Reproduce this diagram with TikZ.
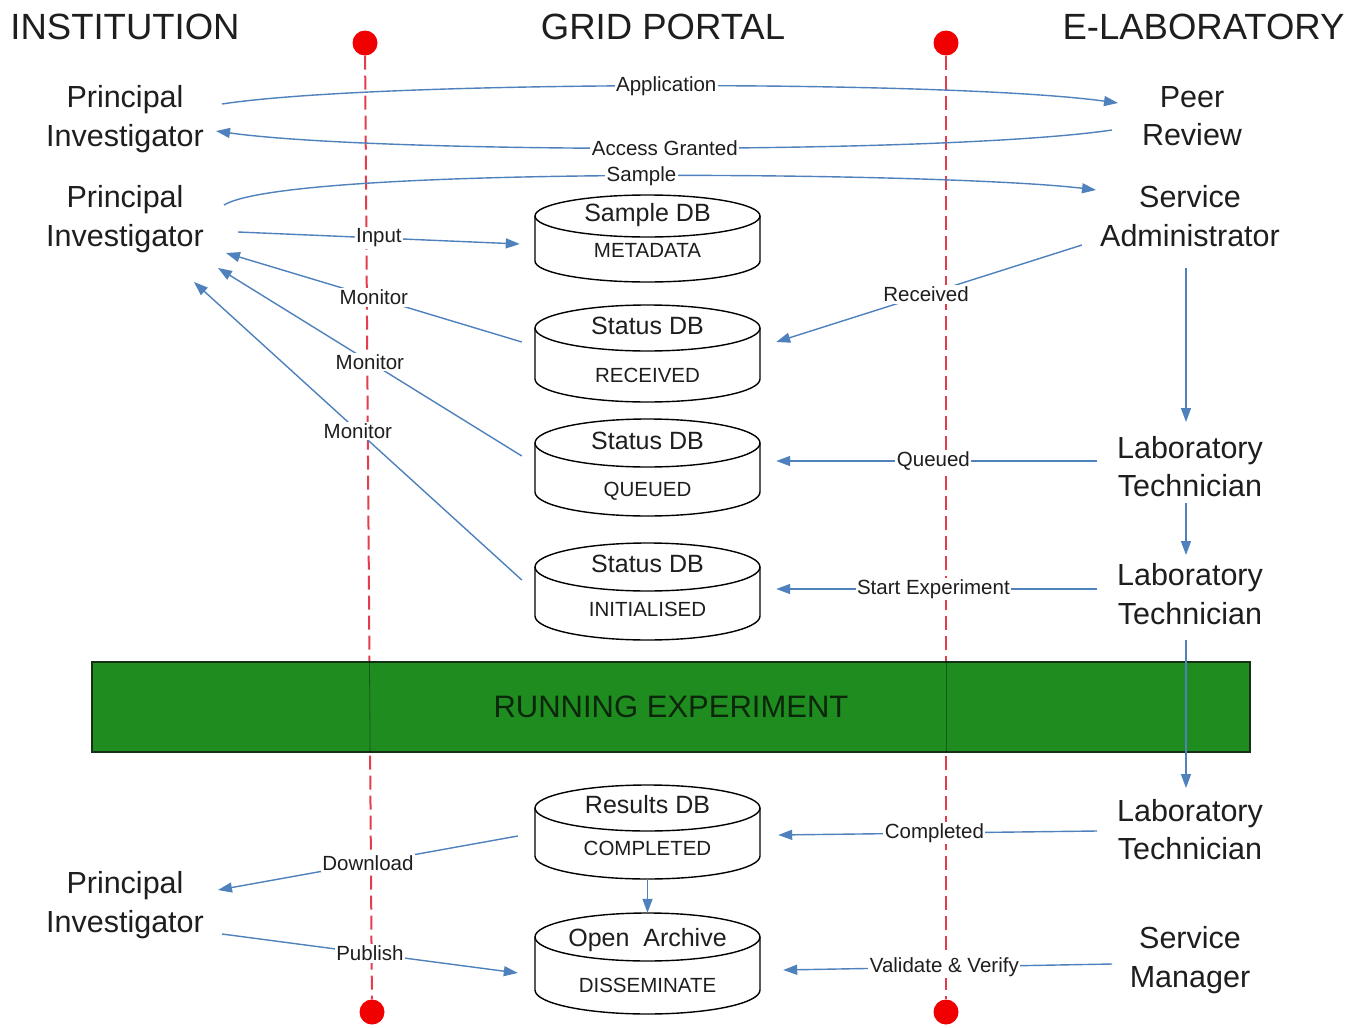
\documentclass[tikz,border=0pt]{standalone}
\usepackage{fontspec}
\setmainfont{Liberation Sans}
\usetikzlibrary{arrows.meta,calc}

\definecolor{flowblue}{RGB}{79,129,189}
\definecolor{lifered}{RGB}{228,62,78}
\definecolor{dotred}{RGB}{240,0,0}
\definecolor{rungreen}{RGB}{31,140,31}
\definecolor{runedge}{RGB}{22,48,22}
\definecolor{runtext}{RGB}{12,38,12}
\definecolor{ink}{RGB}{30,30,30}

\tikzset{
  head/.style={font=\fontsize{36.5}{40}\selectfont, text=ink, inner sep=0pt},
  actor/.style={font=\fontsize{30.5}{38.5}\selectfont, text=ink, align=center, inner sep=0pt},
  dbbox/.style={inner sep=0pt, minimum width=225pt},
  dbline/.style={draw=black, line width=1.4pt},
  dbtitle/.style={font=\fontsize{25}{28}\selectfont, text=ink, inner sep=0pt},
  dbsub/.style={font=\fontsize{20.5}{24}\selectfont, text=ink, inner sep=0pt},
  flow/.style={draw=flowblue, line width=1.4pt, -{Triangle[length=14pt, width=10pt]}},
  lbl/.style={fill=white, inner sep=1.5pt, text=ink, font=\fontsize{20.5}{24}\selectfont},
  lifedot/.style={circle, fill=dotred, inner sep=0pt, minimum size=25pt},
  lifeline/.style={draw=lifered, line width=2pt, dash pattern=on 14pt off 6pt},
  runbar/.style={fill=rungreen, draw=runedge, line width=1.6pt, minimum width=1158pt,
                 minimum height=90pt, inner sep=0pt, text=runtext,
                 font=\fontsize{31}{34}\selectfont},
}

% database cylinder: name, centre x, top y, bottom y, ellipse half-height,
% title, title y, status, status y
\newcommand\dbcyl[9]{%
  \pgfmathsetmacro\dbL{#2-112.5}%
  \pgfmathsetmacro\dbR{#2+112.5}%
  \pgfmathsetmacro\dbTc{#3+#5}%
  \pgfmathsetmacro\dbBc{#4-#5}%
  \pgfmathsetmacro\dbBk{#4-#5+0.5523*#5}%
  \pgfmathsetmacro\dbLk{#2-0.5523*112.5}%
  \pgfmathsetmacro\dbRk{#2+0.5523*112.5}%
  \node[dbbox, minimum height={#4-#3}] (#1) at (#2,{(#3+#4)/2}) {};
  \draw[dbline] (\dbL,\dbTc) -- (\dbL,\dbBc)
     .. controls (\dbL,\dbBk) and (\dbLk,#4) .. (#2,#4)
     .. controls (\dbRk,#4) and (\dbR,\dbBk) .. (\dbR,\dbBc) -- (\dbR,\dbTc);
  \draw[dbline] (#2,\dbTc) ellipse [x radius=112.5, y radius=#5];
  \node[dbtitle] (#1-title) at (#2,#7) {#6};
  \node[dbsub] (#1-sub) at (#2,#9) {#8};
}

\begin{document}
\begin{tikzpicture}[x=1pt, y=-1pt]
\useasboundingbox (0,0) rectangle (1366,1028);
\fill[white] (0,0) rectangle (1366,1028);

% column headings
\node[head] (inst) at (125,26.5) {INSTITUTION};
\node[head] (grid) at (663,26.5) {GRID PORTAL};
\node[head] (elab) at (1203.5,26.5) {E-LABORATORY};

% lifelines between the two domains
\node[lifedot] (ltop) at (365,43) {};
\node[lifedot] (lbot) at (372,1012) {};
\node[lifedot] (rtop) at (946,43) {};
\node[lifedot] (rbot) at (946,1012) {};
\draw[lifeline] (ltop) -- (lbot);
\draw[lifeline] (rtop) -- (rbot);

% experiment phase
\node[runbar] (run) at (671,707) {RUNNING EXPERIMENT};
\begin{scope}
  \clip (run.south west) rectangle (run.north east);
  \draw[black, opacity=0.35, line width=0.8pt] (ltop) -- (lbot);
  \draw[black, opacity=0.35, line width=0.8pt] (rtop) -- (rbot);
\end{scope}

% actors
\node[actor] (pi1) at (125,119) {Principal\\Investigator};
\node[actor] (peer) at (1192,116) {Peer\\Review};
\node[actor] (pi2) at (125,219) {Principal\\Investigator};
\node[actor] (sadmin) at (1190,216) {Service\\Administrator};
\node[actor] (lt1) at (1190,466.5) {Laboratory\\Technician};
\node[actor] (lt2) at (1190,594) {Laboratory\\Technician};
\node[actor] (lt3) at (1190,829.5) {Laboratory\\Technician};
\node[actor] (pi3) at (125,905) {Principal\\Investigator};
\node[actor] (smgr) at (1190,960) {Service\\Manager};

% databases on the grid portal
\dbcyl{db1}{647.5}{195}{282}{21}{Sample DB}{215}{METADATA}{250}
\dbcyl{db2}{647.5}{305}{402}{23}{Status DB}{326}{RECEIVED}{375}
\dbcyl{db3}{647.5}{419}{516}{24}{Status DB}{441}{QUEUED}{491}
\dbcyl{db4}{647.5}{543}{640}{24}{Status DB}{564}{INITIALISED}{609}
\dbcyl{db5}{647.5}{785}{879}{23}{Results DB}{805}{COMPLETED}{848}
\dbcyl{db6}{647.5}{913}{1014}{24}{Open~~Archive}{940}{DISSEMINATE}{985}

% proposal and sample submission
\draw[flow] ($(pi1)+(97,-15)$) .. controls (380,80) and (950,80) .. ($(peer)+(-74,-13)$)
  node[lbl, pos=0.5] {Application};
\draw[flow] ($(peer)+(-80,14)$) .. controls (950,154) and (380,154) .. ($(pi1)+(91,12)$)
  node[lbl, pos=0.5] {Access Granted};
\draw[flow] ($(pi2)+(99,-14)$) .. controls (290,165) and (950,172) .. ($(sadmin)+(-94,-26)$)
  node[lbl, pos=0.51] {Sample};
\draw[flow] ($(pi2)+(113,13)$) -- node[lbl, pos=0.5] {Input} ($(db1.west)+(-15,5.5)$);

% monitoring of the status records
\draw[flow] ($(db2.west)+(-13,-11.5)$) -- node[lbl, pos=0.5] {Monitor} ($(pi2)+(101,34)$);
\draw[flow] ($(db3.west)+(-13,-11.5)$) -- node[lbl, pos=0.5] {Monitor} ($(pi2)+(93,49)$);
\draw[flow] ($(db4.west)+(-13,-11.5)$) -- node[lbl, pos=0.5] {Monitor} ($(pi2)+(69,63)$);

% laboratory updates
\draw[flow] ($(sadmin)+(-108,29)$) -- node[lbl, pos=0.51] {Received} ($(db2.east)+(16,-11.5)$);
\draw[flow] ($(lt1)+(-93,-5.5)$) -- node[lbl, pos=0.51] {Queued} ($(db3.east)+(16,-6.5)$);
\draw[flow] ($(lt2)+(-93,-5)$) -- node[lbl, pos=0.51] {Start Experiment} ($(db4.east)+(16,-2.5)$);
\draw[flow] ($(lt3)+(-93,1.5)$) -- node[lbl, pos=0.51] {Completed} ($(db5.east)+(18,3)$);
\draw[flow] ($(smgr)+(-78,4)$) -- node[lbl, pos=0.51] {Validate \& Verify} ($(db6.east)+(23,6.5)$);

% laboratory hand-offs
\draw[flow] ($(sadmin)+(-4,52)$) -- ($(lt1)+(-4,-44.5)$);
\draw[flow] ($(lt1)+(-4,36.5)$) -- ($(lt2)+(-4,-39)$);
\draw[flow] ($(lt2)+(-4,46)$) -- ($(lt3)+(-4,-41.5)$);

% results
\draw[flow] (db5.south) -- (db6.north);
\draw[flow] ($(db5.west)+(-17,4)$) -- node[lbl, pos=0.5] {Download} ($(pi3)+(93,-15)$);
\draw[flow] ($(pi3)+(97,29)$) -- node[lbl, pos=0.5] {Publish} ($(db6.west)+(-17,9.5)$);
\end{tikzpicture}
\end{document}
